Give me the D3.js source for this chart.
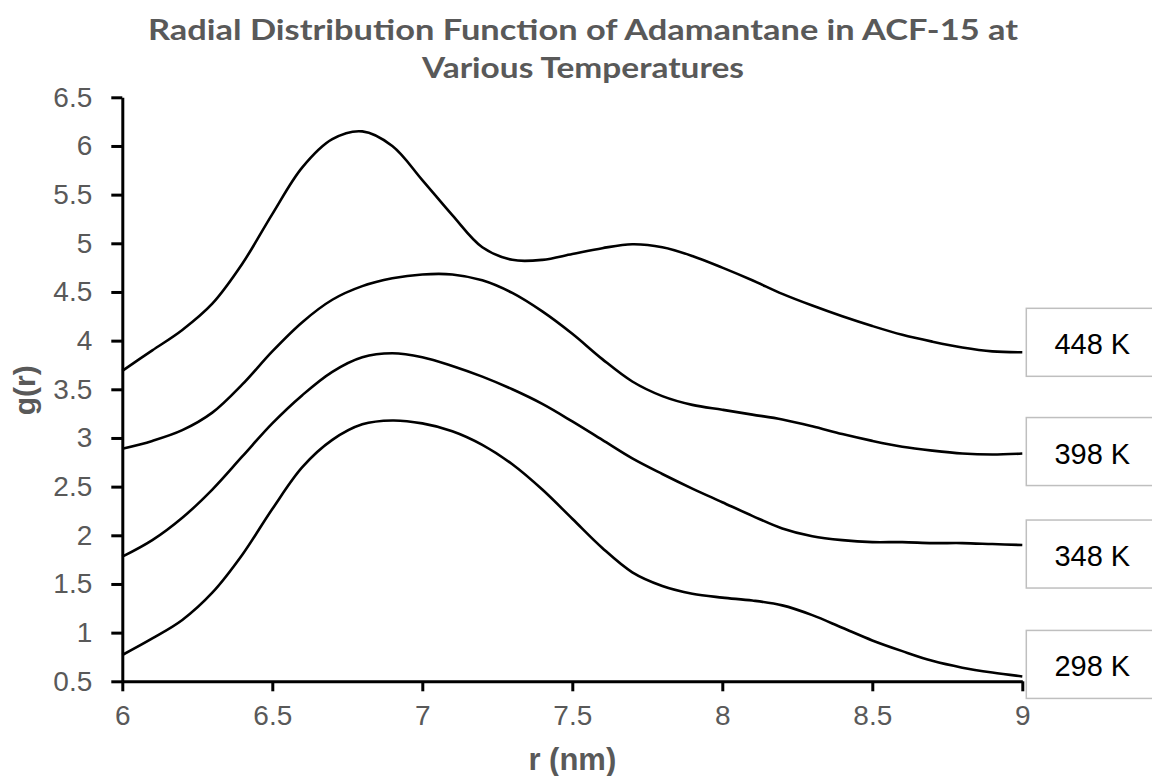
<!DOCTYPE html>
<html>
<head>
<meta charset="utf-8">
<script src="https://cdn.jsdelivr.net/npm/d3@7"></script>
<style>
  html, body { margin: 0; padding: 0; background: #fff; }
  svg { display: block; }
</style>
</head>
<body>
<svg width="1152" height="776"></svg>
<script>
// r values (nm) shared by every series
const rValues = [6.0, 6.1, 6.2, 6.3, 6.4, 6.5, 6.6, 6.7, 6.8, 6.9,
                 7.0, 7.1, 7.2, 7.3, 7.4, 7.5, 7.6, 7.7, 7.8, 7.9,
                 8.0, 8.1, 8.2, 8.3, 8.4, 8.5, 8.6, 8.7, 8.8, 8.9, 9.0];

// g(r)
const g448 = [3.69, 3.90, 4.11, 4.38, 4.79, 5.30, 5.78, 6.07, 6.15, 6.00,
              5.65, 5.29, 4.96, 4.83, 4.83, 4.89, 4.95, 4.99, 4.96, 4.87,
              4.75, 4.62, 4.48, 4.36, 4.25, 4.15, 4.06, 3.99, 3.93, 3.89, 3.88];
const g398 = [2.89, 2.97, 3.08, 3.26, 3.55, 3.89, 4.19, 4.42, 4.56, 4.64,
              4.68, 4.68, 4.62, 4.49, 4.30, 4.07, 3.81, 3.58, 3.43, 3.34,
              3.29, 3.24, 3.19, 3.12, 3.04, 2.97, 2.91, 2.87, 2.84, 2.83, 2.84];
const g348 = [1.78, 1.95, 2.18, 2.47, 2.81, 3.15, 3.44, 3.68, 3.83, 3.87,
              3.83, 3.74, 3.63, 3.50, 3.35, 3.17, 2.98, 2.79, 2.63, 2.48,
              2.34, 2.20, 2.07, 1.99, 1.95, 1.93, 1.93, 1.92, 1.92, 1.91, 1.90];
const g298 = [0.77, 0.94, 1.13, 1.41, 1.80, 2.27, 2.70, 2.98, 3.14, 3.18,
              3.15, 3.07, 2.93, 2.73, 2.47, 2.17, 1.87, 1.62, 1.48, 1.40,
              1.36, 1.33, 1.28, 1.18, 1.05, 0.92, 0.81, 0.71, 0.64, 0.59, 0.55];

const seriesNames = ["448 K", "398 K", "348 K", "298 K"];
const seriesValues = [g448, g398, g348, g298];

const xTicks = [6, 6.5, 7, 7.5, 8, 8.5, 9];
const yTicks = [0.5, 1, 1.5, 2, 2.5, 3, 3.5, 4, 4.5, 5, 5.5, 6, 6.5];

const titleLines = ["Radial Distribution Function of Adamantane in ACF-15 at", "Various Temperatures"];

// label boxes were nudged by hand in the original
const labelNudge = [-10, -2, 9, -12];

let svg = d3.select("svg"),
    margin = {top: 97.3, right: 129.7, bottom: 94.7, left: 122.3},
    width = +svg.attr("width") - margin.left - margin.right,
    height = +svg.attr("height") - margin.top - margin.bottom,
    g = svg.append("g").attr("transform", "translate(" + margin.left + "," + margin.top + ")");

let x = d3.scaleLinear().domain([6, 9]).range([0, width]);
let y = d3.scaleLinear().domain([0.5, 6.5]).range([height, 0]);

let grey = "#595959";

// title, two lines
svg.append("g")
  .selectAll("text")
  .data(titleLines)
  .enter().append("text")
    .attr("x", 583)
    .attr("y", (d, i) => i == 0 ? 39.5 : 78)
    .attr("text-anchor", "middle")
    .attr("font-family", "Lato, 'Open Sans', sans-serif")
    .attr("font-size", 28)
    .attr("font-weight", "bold")
    .attr("fill", grey)
    .attr("textLength", (d, i) => i == 0 ? 870 : 322)
    .attr("lengthAdjust", "spacingAndGlyphs")
    .text(d => d);

// axes
let xAxis = g.append("g")
    .attr("transform", "translate(0," + height + ")")
    .call(d3.axisBottom(x).tickValues(xTicks).tickSize(10).tickSizeOuter(0).tickPadding(14).tickFormat(d => String(d)));

let yAxis = g.append("g")
    .call(d3.axisLeft(y).tickValues(yTicks).tickSize(11).tickSizeOuter(0).tickPadding(19).tickFormat(d => String(d)));

[xAxis, yAxis].forEach(function(ax) {
  ax.select(".domain").attr("stroke", "#000").attr("stroke-width", 3);
  ax.selectAll(".tick line").attr("stroke", "#000").attr("stroke-width", 3);
  ax.selectAll(".tick text")
    .attr("font-family", "'Liberation Sans', Arial, sans-serif")
    .attr("font-size", 28)
    .attr("fill", grey);
});

// axis titles
svg.append("text")
    .attr("transform", "translate(35," + (margin.top + y(3.5) + 1) + ") rotate(-90)")
    .attr("text-anchor", "middle")
    .attr("font-family", "'Liberation Sans', Arial, sans-serif")
    .attr("font-size", 30)
    .attr("font-weight", "bold")
    .attr("fill", grey)
    .text("g(r)");

svg.append("text")
    .attr("x", margin.left + x(7.5))
    .attr("y", 770)
    .attr("text-anchor", "middle")
    .attr("font-family", "'Liberation Sans', Arial, sans-serif")
    .attr("font-size", 31)
    .attr("font-weight", "bold")
    .attr("fill", grey)
    .text("r (nm)");

// curves
let line = d3.line()
    .x((d, i) => x(rValues[i]))
    .y(d => y(d))
    .curve(d3.curveCatmullRom.alpha(0.5));

g.append("g")
  .selectAll("path")
  .data(seriesValues)
  .enter().append("path")
    .attr("d", line)
    .attr("fill", "none")
    .attr("stroke", "#000")
    .attr("stroke-width", 2.6);

// end labels
let labels = g.append("g")
  .selectAll("g")
  .data(seriesNames)
  .enter().append("g")
    .attr("transform", (d, i) => "translate(" + (x(9) + 4) + "," + (y(seriesValues[i][seriesValues[i].length - 1]) + labelNudge[i]) + ")");

labels.append("rect")
    .attr("x", 0).attr("y", -34)
    .attr("width", 140).attr("height", 68)
    .attr("fill", "#fff")
    .attr("stroke", "#bfbfbf")
    .attr("stroke-width", 1.5);

labels.append("text")
    .attr("x", 66)
    .attr("y", 12)
    .attr("text-anchor", "middle")
    .attr("font-family", "'Liberation Sans', Arial, sans-serif")
    .attr("font-size", 29)
    .attr("fill", "#000")
    .text(d => d);
</script>
</body>
</html>
